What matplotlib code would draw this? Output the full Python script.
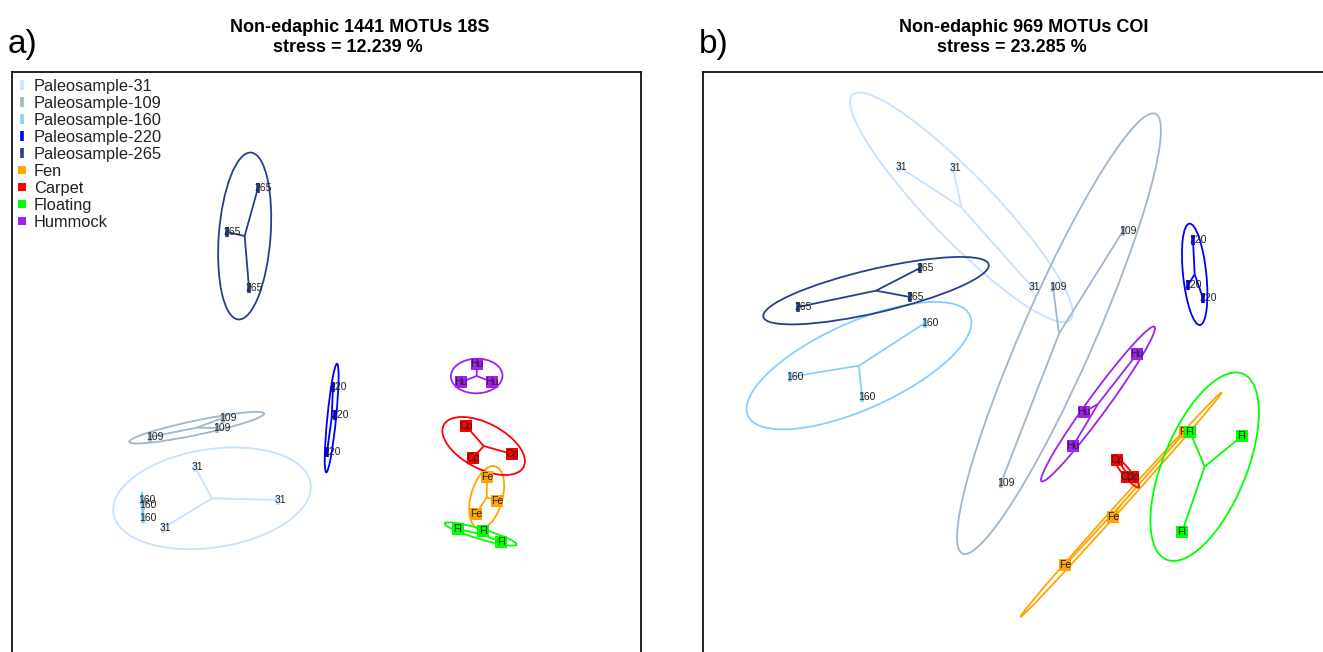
import numpy as np
import matplotlib
matplotlib.use("Agg")
import matplotlib.pyplot as plt
from matplotlib.patches import Ellipse
from matplotlib.lines import Line2D
from matplotlib import font_manager

# ---------------- data (NMDS scores) ----------------
groups = ["Paleosample-31", "Paleosample-109", "Paleosample-160",
          "Paleosample-220", "Paleosample-265", "Fen", "Carpet", "Floating", "Hummock"]
short_labels = ["31", "109", "160", "220", "265", "Fe", "Cp", "Fl", "Hu"]
colors = ["#C6E2FF", "#9FB6CD", "#87CEFA", "#0000FF", "#27408B",
          "#FFA500", "#FF0000", "#00FF00", "#A020F0"]
is_paleo = [True, True, True, True, True, False, False, False, False]

# panel a: 18S
a_x = {
    "Paleosample-31":  [-1.315, -0.485, -1.635],
    "Paleosample-109": [-1.035, -1.095, -1.765],
    "Paleosample-160": [-1.845, -1.835, -1.835],
    "Paleosample-220": [0.065, 0.085, 0.005],
    "Paleosample-265": [-0.685, -0.995, -0.775],
    "Fen":             [1.605, 1.705, 1.495],
    "Carpet":          [1.395, 1.465, 1.855],
    "Floating":        [1.315, 1.565, 1.745],
    "Hummock":         [1.505, 1.345, 1.655],
}
a_y = {
    "Paleosample-31":  [-0.805, -1.135, -1.415],
    "Paleosample-109": [-0.315, -0.415, -0.505],
    "Paleosample-160": [-1.135, -1.185, -1.315],
    "Paleosample-220": [-0.005, -0.285, -0.655],
    "Paleosample-265": [1.985, 1.545, 0.985],
    "Fen":             [-0.905, -1.145, -1.275],
    "Carpet":          [-0.395, -0.715, -0.675],
    "Floating":        [-1.425, -1.445, -1.555],
    "Hummock":         [0.225, 0.045, 0.045],
}
# panel b: COI
b_x = {
    "Paleosample-31":  [-1.185, -0.645, 0.145],
    "Paleosample-109": [1.055, 0.355, -0.165],
    "Paleosample-160": [-0.925, -2.275, -1.555],
    "Paleosample-220": [1.755, 1.705, 1.855],
    "Paleosample-265": [-0.975, -1.075, -2.195],
    "Fen":             [1.675, 0.955, 0.475],
    "Carpet":          [0.995, 1.095, 1.155],
    "Floating":        [1.725, 2.245, 1.645],
    "Hummock":         [1.195, 0.665, 0.555],
}
b_y = {
    "Paleosample-31":  [2.195, 2.185, 0.995],
    "Paleosample-109": [1.555, 0.995, -0.965],
    "Paleosample-160": [0.635, 0.095, -0.105],
    "Paleosample-220": [1.465, 1.015, 0.885],
    "Paleosample-265": [1.185, 0.895, 0.795],
    "Fen":             [-0.455, -1.305, -1.785],
    "Carpet":          [-0.735, -0.905, -0.905],
    "Floating":        [-0.455, -0.495, -1.455],
    "Hummock":         [0.325, -0.255, -0.595],
}

titles = [("Non-edaphic 1441 MOTUs 18S", "stress = 12.239 %"),
          ("Non-edaphic 969 MOTUs COI", "stress = 23.285 %")]
panel_tags = ["a)", "b)"]

# ---------------- fonts ----------------
avail = {f.name for f in font_manager.fontManager.ttflist}
base_font = "Liberation Sans" if "Liberation Sans" in avail else "DejaVu Sans"
plt.rcParams["font.family"] = [base_font, "DejaVu Sans"]

W, H = 1323, 652
fig = plt.figure(figsize=(W / 100, H / 100), dpi=100)

ELL_SCALE = np.sqrt(-2 * np.log(0.25))  # 75 % confidence ellipse
LIM = 3.145
AX_PX = 629


def draw_panel(ax, xs, ys, with_legend):
    for gi, g in enumerate(groups):
        x = np.array(xs[g]); y = np.array(ys[g])
        col = colors[gi]
        cx, cy = x.mean(), y.mean()
        cov = np.cov(np.vstack([x, y]))
        vals, vecs = np.linalg.eigh(cov)
        order = vals.argsort()[::-1]
        vals, vecs = vals[order], vecs[:, order]
        ang = np.degrees(np.arctan2(vecs[1, 0], vecs[0, 0]))
        w = 2 * ELL_SCALE * np.sqrt(max(vals[0], 0))
        h = 2 * ELL_SCALE * np.sqrt(max(vals[1], 0))
        ax.add_patch(Ellipse((cx, cy), w, h, angle=ang, fill=False,
                             edgecolor=col, lw=1.3, zorder=2))
        for xi, yi in zip(x, y):
            ax.plot([cx, xi], [cy, yi], color=col, lw=1.3, zorder=2,
                    solid_capstyle="butt")
    for gi, g in enumerate(groups):
        x = np.array(xs[g]); y = np.array(ys[g])
        col = colors[gi]
        z = 3 + gi * 0.1
        if is_paleo[gi]:
            ax.plot(x, y, linestyle="none", marker="|", ms=7, mew=2.6,
                    color=col, zorder=z)
            for xi, yi in zip(x, y):
                ax.annotate(short_labels[gi], (xi, yi), xytext=(-2.5, 0),
                            textcoords="offset points", ha="left", va="center",
                            fontsize=7.5, color="#222222", zorder=z + 0.05)
        else:
            ax.plot(x, y, linestyle="none", marker="s", ms=8, mew=0,
                    color=col, zorder=z)
            for xi, yi in zip(x, y):
                ax.annotate(short_labels[gi], (xi, yi), xytext=(0, 0),
                            textcoords="offset points", ha="center", va="center",
                            fontsize=7.5, color="#222222", zorder=z + 0.05)
    ax.set_xlim(-LIM, LIM)
    ax.set_ylim(-LIM, LIM)
    ax.set_xticks([]); ax.set_yticks([])
    for s in ax.spines.values():
        s.set_linewidth(1.3)
        s.set_color("#111111")
    if with_legend:
        handles = []
        for gi, g in enumerate(groups):
            if is_paleo[gi]:
                handles.append(Line2D([], [], linestyle="none", marker="|",
                                      ms=7, mew=2.6, color=colors[gi]))
            else:
                handles.append(Line2D([], [], linestyle="none", marker="s",
                                      ms=6, mew=0, color=colors[gi]))
        leg = ax.legend(handles, groups, loc="upper left", frameon=False,
                        fontsize=11.8, handlelength=0.8, handletextpad=0.33,
                        labelspacing=0.12, borderaxespad=0, borderpad=0,
                        bbox_to_anchor=(3.4 / AX_PX, 1 - 7.0 / AX_PX))
        for t in leg.get_texts():
            t.set_color("#222222")


panel_left = [12, 703]
panel_data = [(a_x, a_y), (b_x, b_y)]
title_centers = [(360, 348), (1024, 1012)]
for i in range(2):
    ax = fig.add_axes([panel_left[i] / W, 1 - (72 + AX_PX) / H, AX_PX / W, AX_PX / H])
    draw_panel(ax, panel_data[i][0], panel_data[i][1], i == 0)
    fig.text(title_centers[i][0] / W, 1 - 27 / H, titles[i][0], ha="center",
             va="center", fontsize=13, fontweight="bold")
    fig.text(title_centers[i][1] / W, 1 - 48 / H, titles[i][1], ha="center",
             va="center", fontsize=13, fontweight="bold")
    fig.text((panel_left[i] - 4) / W, 1 - 45 / H, panel_tags[i], ha="left",
             va="center", fontsize=24)

fig.savefig("out.png", dpi=100)
